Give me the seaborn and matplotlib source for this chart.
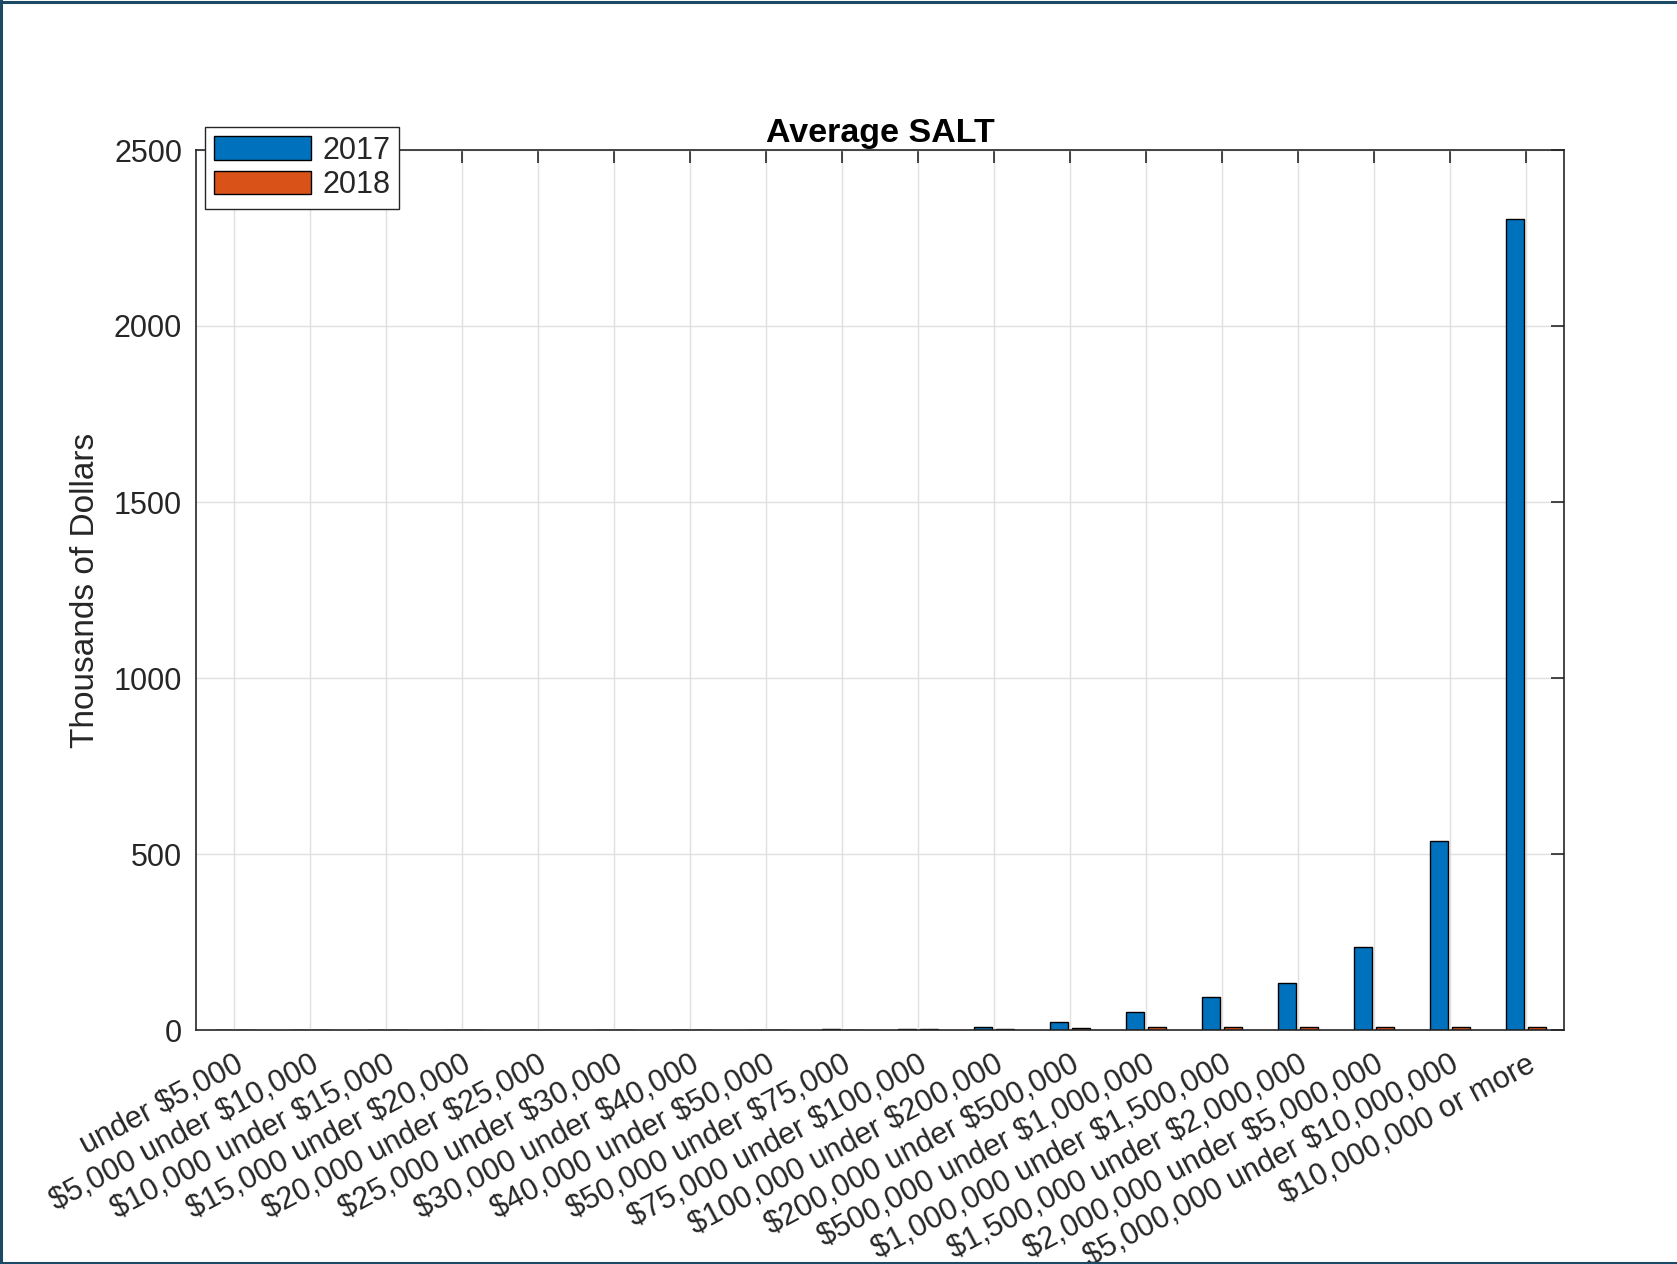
import matplotlib
matplotlib.use("Agg")
import matplotlib.pyplot as plt
import matplotlib.transforms as mtransforms
from matplotlib.patches import Patch
from matplotlib.lines import Line2D
import pandas as pd
import seaborn as sns

# Income brackets (adjusted gross income)
brackets = [
    "under $5,000", "$5,000 under $10,000", "$10,000 under $15,000",
    "$15,000 under $20,000", "$20,000 under $25,000", "$25,000 under $30,000",
    "$30,000 under $40,000", "$40,000 under $50,000", "$50,000 under $75,000",
    "$75,000 under $100,000", "$100,000 under $200,000", "$200,000 under $500,000",
    "$500,000 under $1,000,000", "$1,000,000 under $1,500,000",
    "$1,500,000 under $2,000,000", "$2,000,000 under $5,000,000",
    "$5,000,000 under $10,000,000", "$10,000,000 or more",
]
years = ["2017", "2018"]

# Average state and local tax deduction, thousands of dollars
salt_2017 = [0.3, 0.4, 0.5, 0.6, 0.7, 0.8, 1.0, 1.3, 2.0, 3.8, 8.0, 22.5,
             51, 93, 133, 236, 537, 2305]
salt_2018 = [0.2, 0.2, 0.3, 0.3, 0.4, 0.4, 0.5, 0.7, 1.0, 1.6, 2.6, 4.5,
             7.5, 8.5, 8.8, 9.0, 9.2, 9.4]

y_ticks = [0, 500, 1000, 1500, 2000, 2500]

df = pd.DataFrame({
    "bracket": brackets * 2,
    "year": [years[0]] * len(brackets) + [years[1]] * len(brackets),
    "salt": salt_2017 + salt_2018,
})

blue = "#0072BD"
orange = "#D95319"
ink = "#262626"

sns.set_style("white")
plt.rcParams["font.family"] = ["Liberation Sans", "DejaVu Sans"]
plt.rcParams["text.parse_math"] = False

W, H = 1677, 1264
fig = plt.figure(figsize=(W / 100, H / 100), dpi=100)
ax = fig.add_axes([196 / W, 1 - 1030 / H, (1564 - 196) / W, (1030 - 150) / H])

sns.barplot(
    data=df, x="bracket", y="salt", hue="year", order=brackets,
    hue_order=years, palette=[blue, orange], width=4 / 7, gap=0.2,
    edgecolor="black", linewidth=1.0, saturation=1, legend=False, ax=ax,
)

ax.set_xlim(-0.5, len(brackets) - 0.5)
ax.set_ylim(0, 2500)
ax.set_yticks(y_ticks)
ax.set_yticklabels([str(v) for v in y_ticks])

ax.grid(True, color="#e0e0e0", linewidth=1.0)
ax.set_axisbelow(True)

for side in ["left", "right", "top", "bottom"]:
    ax.spines[side].set_visible(True)
    ax.spines[side].set_color(ink)
    ax.spines[side].set_linewidth(1.2)

ax.tick_params(axis="both", direction="in", length=9.5, width=1.2,
               colors=ink, labelsize=22, top=True, right=True,
               labeltop=False, labelright=False, pad=10)

ax.set_xticks(range(len(brackets)))
ax.set_xticklabels(brackets, rotation=28, ha="right", va="top",
                   rotation_mode="anchor", fontsize=22, color=ink)
shift = mtransforms.ScaledTranslation(15 / 100, 0, fig.dpi_scale_trans)
for lbl in ax.get_xticklabels():
    lbl.set_parse_math(False)
    lbl.set_transform(lbl.get_transform() + shift)
ax.tick_params(axis="x", pad=14)

ax.set_xlabel("")
ax.set_ylabel("Thousands of Dollars", fontsize=24, color=ink, labelpad=9)
ax.set_title("Average SALT", fontsize=24.5, fontweight="bold", color="black",
             pad=6)

handles = [
    Patch(facecolor=blue, edgecolor="black", linewidth=1.0, label="2017"),
    Patch(facecolor=orange, edgecolor="black", linewidth=1.0, label="2018"),
]
leg = ax.legend(
    handles=handles, loc="upper left", bbox_to_anchor=(205 / W, 1 - 127 / H),
    bbox_transform=fig.transFigure, borderaxespad=0, fontsize=22,
    handlelength=3.2, handleheight=0.8, handletextpad=0.35,
    labelspacing=0.15, borderpad=0.28, fancybox=False, framealpha=1,
    edgecolor=ink,
)
leg.get_frame().set_linewidth(1.0)

# Thin dark frame along the top, left and bottom of the canvas
frame = "#1c4a66"
lw = 2.2
fig.add_artist(Line2D([0, 1], [1 - 1.5 / H, 1 - 1.5 / H], transform=fig.transFigure,
                      color=frame, linewidth=lw))
fig.add_artist(Line2D([1.2 / W, 1.2 / W], [0, 1], transform=fig.transFigure,
                      color=frame, linewidth=lw))
fig.add_artist(Line2D([0, 1], [1.5 / H, 1.5 / H], transform=fig.transFigure,
                      color=frame, linewidth=lw))

fig.savefig("out.png", dpi=100, facecolor="white")
